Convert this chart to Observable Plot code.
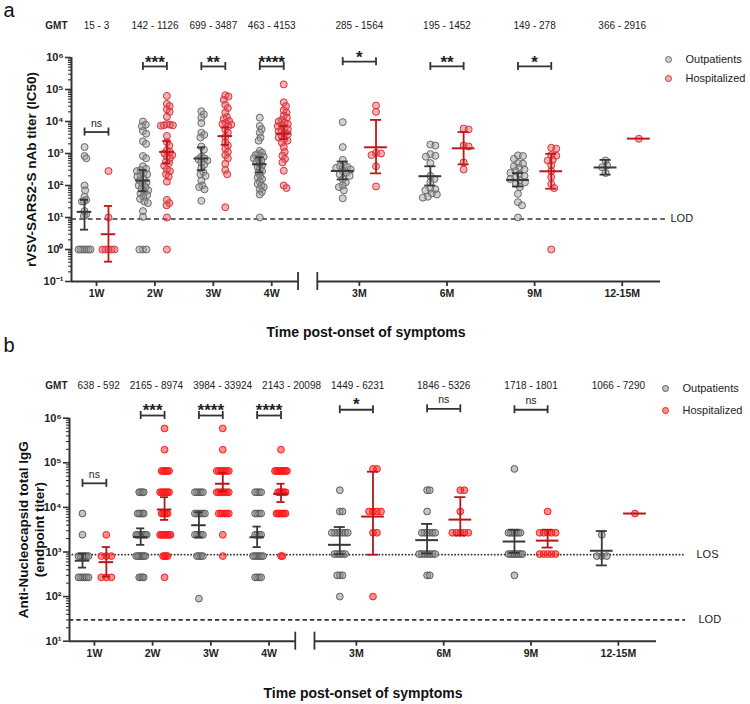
<!DOCTYPE html>
<html><head><meta charset="utf-8">
<script src="https://cdn.jsdelivr.net/npm/d3@7"></script>
<script src="https://cdn.jsdelivr.net/npm/@observablehq/plot@0.6"></script>
<style>
body{margin:0;background:#fff;font-family:"Liberation Sans",Arial,sans-serif;}
#chart svg{display:block;}
</style></head><body><div id="chart"></div>
<script>
// ---------------- DATA ----------------
const timepoints = ["1W","2W","3W","4W","3M","6M","9M","12-15M"];
const timeKinds  = ["W","W","W","W","M","M","M","M"];
const groupNames = ["Outpatients","Hospitalized"];

// Panel a: rVSV-SARS2-S nAb titer (IC50), values as log10 exponents
const nabOutLog = [
  [3.2,2.92,2.85,2.0,1.85,1.65,1.55,1.5,1.5,1.2,1.1,1.05,0,0,0,0,0,0,0],
  [4.0,3.9,3.85,3.7,3.62,3.38,3.3,2.92,2.85,2.6,2.52,2.48,2.45,2.4,2.35,2.3,2.28,2.2,2.15,2.1,2.05,2.0,1.95,1.9,1.85,1.8,1.75,1.7,1.65,1.58,1.5,1.45,1.2,1.02,0,0,0],
  [4.32,4.22,4.12,3.95,3.65,3.58,3.5,3.22,3.12,2.9,2.85,2.82,2.78,2.72,2.65,2.55,2.42,2.35,2.3,2.15,2.0,1.95,1.88,1.52],
  [4.12,3.86,3.76,3.65,3.5,3.4,3.08,3.02,2.98,2.95,2.92,2.9,2.85,2.82,2.78,2.72,2.68,2.62,2.58,2.52,2.45,2.4,2.3,2.25,2.2,2.12,2.05,2.0,1.95,1.88,1.8,1.72,1.0],
  [3.98,3.2,2.8,2.65,2.6,2.58,2.55,2.5,2.45,2.4,2.35,2.3,2.2,2.1,2.0,1.95,1.85,1.6],
  [3.28,3.25,2.98,2.93,2.9,2.7,2.3,2.2,2.1,1.9,1.88,1.85,1.75,1.72,1.65,1.62],
  [2.94,2.92,2.83,2.7,2.68,2.6,2.55,2.5,2.45,2.4,2.35,2.3,2.25,2.2,2.16,2.1,2.05,1.95,1.74,1.48,1.38,1.0],
  [2.78,2.63,2.57,2.39]
];
const nabHospLog = [
  [2.45,1.0,0,0,0,0,0],
  [4.8,4.55,4.48,4.38,4.3,4.15,3.92,3.9,3.88,3.88,3.87,3.55,3.35,3.25,3.1,3.05,3.0,2.95,2.9,2.85,2.75,2.7,2.62,2.5,2.45,2.35,2.28,2.12,1.55,1.45,1.38,1.0,0],
  [4.82,4.78,4.68,4.52,4.42,4.28,4.14,4.08,4.02,3.95,3.92,3.9,3.85,3.75,3.65,3.52,3.35,3.25,3.15,3.05,2.95,2.85,2.68,2.48,2.35,1.32],
  [5.16,4.6,4.48,4.35,4.28,4.18,4.12,4.05,4.0,3.96,3.92,3.88,3.85,3.8,3.76,3.72,3.68,3.64,3.6,3.55,3.5,3.45,3.4,3.34,3.2,3.05,2.93,2.83,2.72,2.46,2.0,1.92],
  [4.5,4.3,3.02,3.0,2.95,2.6,1.97],
  [3.78,3.75,3.25,3.22,2.72,2.5],
  [3.18,3.15,2.95,2.93,2.8,2.78,2.63,2.45,2.26,2.05,1.92,0],
  [3.46]
];
const nabGmtOut  = [15,142,699,463,285,195,149,366];
const nabGmtHosp = [3,1126,3487,4153,1564,1452,278,2916];
const nabCiOutLoLog  = [0.62,1.82,2.48,2.41,2.19,2.0,1.97,2.34];
const nabCiOutHiLog  = [1.55,2.48,3.19,2.88,2.75,2.6,2.39,2.8];
const nabCiHospLoLog = [-0.38,2.69,3.27,3.45,2.38,2.66,1.9,null];
const nabCiHospHiLog = [1.36,3.39,3.81,3.86,4.05,3.67,2.99,null];
const nabSig    = ["ns","***","**","****","*","**","*",null];
const nabSigLog = [3.67,5.72,5.72,5.72,5.87,5.72,5.72,null];
const nabLOD = 9;

// Panel b: Anti-Nucleocapsid total IgG (endpoint titer)
const npOut = [
  [7290,2430,810,810,810,810,810,810,270,270,270,270,270,270],
  [21870,21870,21870,21870,7290,7290,7290,7290,7290,2430,2430,2430,2430,2430,2430,2430,2430,810,810,810,810,810,810,810,270,270,270,270],
  [21870,21870,21870,21870,21870,7290,7290,7290,7290,7290,7290,2430,2430,2430,2430,2430,810,810,810,810,90],
  [21870,21870,21870,21870,7290,7290,7290,7290,2430,2430,2430,2430,810,810,810,810,810,810,270,270,270,270],
  [24300,8100,8100,2700,2700,2700,2700,2700,2700,2700,900,900,900,900,900,300,300,300,100],
  [24300,24300,8100,2700,2700,2700,2700,2700,2700,900,900,900,900,900,900,900,300,300],
  [72900,2700,2700,2700,2700,2700,2700,2700,900,900,900,900,900,900,900,900,300],
  [2430,810,810,810]
];
const npHosp = [
  [2430,810,810,810,270,270,270],
  [590490,196830,65610,65610,65610,65610,65610,65610,21870,21870,21870,21870,21870,21870,21870,7290,7290,7290,7290,7290,2430,2430,2430,2430,2430,2430,2430,2430,810,810,810,810,270],
  [590490,196830,65610,65610,65610,65610,65610,65610,65610,21870,21870,21870,21870,21870,21870,21870,7290,7290,7290,7290,7290,7290,2430,810],
  [196830,65610,65610,65610,65610,65610,65610,65610,65610,65610,21870,21870,21870,21870,21870,21870,7290,7290,7290,7290,7290,7290,7290,810,810],
  [72900,72900,8100,8100,8100,8100,2700,2700,100],
  [24300,24300,8100,2700,2700,2700,2700,2700],
  [8100,2700,2700,2700,2700,2700,900,900,900,900,900],
  [7290]
];
const npGmtOut  = [638,2165,3984,2143,1449,1846,1718,1066];
const npGmtHosp = [592,8974,33924,20098,6231,5326,1801,7290];
const npCiOutLoLog  = [2.65,3.16,3.33,3.11,2.95,2.97,2.98,2.70];
const npCiOutHiLog  = [2.96,3.53,3.89,3.57,3.56,3.63,3.5,3.47];
const npCiHospLoLog = [2.45,3.72,4.36,4.12,2.94,3.37,3.1,null];
const npCiHospHiLog = [3.11,4.23,4.77,4.53,4.8,4.23,3.5,null];
const npSig    = ["ns","***","****","****","*","ns","ns",null];
const npSigLog = [4.54,6.06,6.06,6.06,6.19,6.21,6.19,null];
const npLOS = 870;
const npLOD = 30;

// ---------------- LAYOUT ----------------
const W = 750;
const FONT = '"Liberation Sans", Arial, sans-serif';
const xDomain = [0.144, 20.31];
const slot = {W: 2, M: 3};
const pairOffset = {W: 0.41, M: 0.57};
const meanHalf = {W: 0.25, M: 0.39};
const capHalf = {W: 0.14, M: 0.19};
const spreadMax = {W: 6, M: 8};
const pos = [];
{
  let p = 0;
  timeKinds.forEach((k, i) => {
    if (i === 0) p = slot[k] / 2;
    else if (k !== timeKinds[i-1]) p += slot[timeKinds[i-1]] / 2 + slot[k] / 2 + 0.5;
    else p += slot[k];
    pos.push(p);
  });
}
const break1 = pos[3] + 0.45 * slot.W;
const break2 = pos[4] - 0.48 * slot.M;

const toTiter = e => (e == null ? null : Math.pow(10, e));
const sup = e => String(e).split("").map(c => ({"-":"⁻","0":"⁰","1":"¹","2":"²","3":"³","4":"⁴","5":"⁵","6":"⁶","7":"⁷","8":"⁸","9":"⁹"})[c]).join("");

function swarm(vals, pxPerDec, d, maxHalf) {
  const order = vals.map((_, i) => i).sort((a, b) => vals[b] - vals[a] || a - b);
  const placed = [];
  const off = new Array(vals.length).fill(0);
  for (const i of order) {
    const y = -Math.log10(vals[i]) * pxPerDec;
    for (let k = 0; k < 2000; k++) {
      const c = (k % 2 === 1 ? 1 : -1) * Math.ceil(k / 2) * 0.5;
      if (placed.every(p => (p.x - c) ** 2 + (p.y - y) ** 2 >= d * d - 1e-9)) {
        off[i] = c; placed.push({x: c, y}); break;
      }
    }
  }
  const m = Math.max(0, ...off.map(Math.abs));
  const s = m > maxHalf ? maxHalf / m : 1;
  return off.map(o => o * s);
}

const ctx = document.createElement("canvas").getContext("2d");
ctx.font = `10px ${FONT}`;

function buildPanel(cfg) {
  const L = cfg.layout;
  const [x0, x1] = xDomain;
  const pxPerUnit = (W - L.marginLeft - L.marginRight) / (x1 - x0);
  const [y0, y1] = cfg.yDomain;
  const pxPerDec = (L.height - L.marginTop - L.marginBottom) / (Math.log10(y1) - Math.log10(y0));
  const yShift = (v, px) => v * Math.pow(10, px / pxPerDec);

  const dots = [[], []];
  const stats = [[], []];
  cfg.series.forEach((s, gi) => {
    s.values.forEach((vals, ti) => {
      const kind = timeKinds[ti];
      const xc = pos[ti] + s.side * pairOffset[kind];
      const offs = swarm(vals, pxPerDec, 5, spreadMax[kind]);
      vals.forEach((v, j) => dots[gi].push({v, x: xc + offs[j] / pxPerUnit}));
      stats[gi].push({kind, xc, gmt: s.gmt[ti], lo: s.lo[ti], hi: s.hi[ti]});
    });
  });

  const errMarks = [];
  cfg.series.forEach((s, gi) => {
    const st = stats[gi];
    const withCi = st.filter(d => d.lo != null);
    const caps = withCi.flatMap(d => [{y: d.lo, xc: d.xc, kind: d.kind}, {y: d.hi, xc: d.xc, kind: d.kind}]);
    errMarks.push(
      Plot.ruleX(withCi, {x: "xc", y1: "lo", y2: "hi", stroke: s.bar, strokeWidth: 1.8}),
      Plot.ruleY(caps, {y: "y", x1: d => d.xc - capHalf[d.kind], x2: d => d.xc + capHalf[d.kind], stroke: s.bar, strokeWidth: 1.8}),
      Plot.ruleY(st, {y: "gmt", x1: d => d.xc - meanHalf[d.kind], x2: d => d.xc + meanHalf[d.kind], stroke: s.bar, strokeWidth: 2})
    );
  });

  const brackets = cfg.sig.map((lab, ti) => lab == null ? null : {
    label: lab, kind: timeKinds[ti], xc: pos[ti],
    x1: pos[ti] - pairOffset[timeKinds[ti]], x2: pos[ti] + pairOffset[timeKinds[ti]],
    y: toTiter(cfg.sigLog[ti])
  }).filter(d => d);
  const bracketEnds = brackets.flatMap(b => [{x: b.x1, y: b.y}, {x: b.x2, y: b.y}]);

  // GMT row positions
  const gmtLabels = cfg.series[0].gmt.map((g, i) => `${g} - ${cfg.series[1].gmt[i]}`);
  let prev = cfg.gmtStart;
  const gmtRows = gmtLabels.map((t, i) => {
    const w = ctx.measureText(t).width;
    const tick = L.marginLeft + (pos[i] - x0) * pxPerUnit;
    const c = Math.max(tick, prev + 10 + w / 2);
    prev = c + w / 2;
    return {t, x: x0 + (c - L.marginLeft) / pxPerUnit};
  });

  const e0 = Math.round(Math.log10(y0)), e1 = Math.round(Math.log10(y1));
  const major = d3.range(e0, e1 + 1).map(e => Math.pow(10, e));
  const minor = d3.range(e0, e1).flatMap(e => d3.range(2, 10).map(k => k * Math.pow(10, e)));

  const refMarks = cfg.refLines.flatMap(r => [
    Plot.ruleY([r.value], {x1: x0, x2: x1 + cfg.refExtend, stroke: "#333", strokeWidth: r.dotted ? 1.8 : 1.6,
      strokeDasharray: r.dotted ? "0.1,3.2" : r.dash, strokeLinecap: r.dotted ? "round" : "butt"}),
    Plot.text([r.text], {text: d => d, frameAnchor: "right", y: r.value, dx: r.dx, textAnchor: "start", lineAnchor: "middle", fontSize: 11, fill: "#222"})
  ]);

  const colorsDots = cfg.series.map((s, gi) => Plot.dot(dots[gi], {x: "x", y: "v", r: cfg.r, fill: s.fill, fillOpacity: s.fillOpacity, stroke: s.stroke, strokeWidth: 1}));

  const breakF = Math.pow(10, 9 / pxPerDec);

  return Plot.plot({
    width: W, height: L.height,
    marginTop: L.marginTop, marginBottom: L.marginBottom, marginLeft: L.marginLeft, marginRight: L.marginRight,
    x: {type: "linear", domain: xDomain, label: null},
    y: {type: "log", domain: cfg.yDomain, label: null},
    style: {fontFamily: FONT, fontSize: "10px", color: "#222", background: "white", overflow: "visible"},
    marks: [
      ...refMarks,
      // axes
      Plot.axisY({ticks: minor, tickSize: 3, tickFormat: () => "", stroke: "#333", strokeWidth: 1.1, label: null}),
      Plot.axisY({ticks: major, tickSize: 6, tickPadding: 2, tickFormat: v => "10" + sup(Math.round(Math.log10(v))),
        fontWeight: "bold", fontSize: 11, stroke: "#333", strokeWidth: 1.6, label: null}),
      Plot.ruleX([x0], {stroke: "#333", strokeWidth: 2}),
      Plot.ruleY([y0], {x1: x0, x2: break1, stroke: "#333", strokeWidth: 2}),
      Plot.ruleY([y0], {x1: break2, x2: x1, stroke: "#333", strokeWidth: 2}),
      Plot.ruleX([break1, break2], {y1: y0 / breakF, y2: y0 * breakF, stroke: "#333", strokeWidth: 1.8}),
      Plot.axisX({ticks: pos, tickSize: 5, tickPadding: 3, tickFormat: v => timepoints[pos.indexOf(v)],
        fontWeight: "bold", fontSize: 10.5, stroke: "#333", strokeWidth: 1.8, label: null}),
      // dots
      ...colorsDots,
      // error bars
      ...errMarks,
      // significance brackets
      Plot.ruleY(brackets, {y: "y", x1: "x1", x2: "x2", stroke: "#333", strokeWidth: 1.8}),
      Plot.ruleX(bracketEnds, {x: "x", y1: d => yShift(d.y, -4), y2: d => yShift(d.y, 4), stroke: "#333", strokeWidth: 1.8}),
      Plot.text(brackets.filter(b => b.label !== "ns"), {x: "xc", y: "y", text: "label", dy: cfg.starDy, lineAnchor: "middle", fontSize: 17, fontWeight: "bold", fill: "#222"}),
      Plot.text(brackets.filter(b => b.label === "ns"), {x: "xc", y: "y", text: "label", dy: cfg.nsDy, lineAnchor: "middle", fontSize: 10.5, fill: "#222"}),
      // GMT row
      Plot.text(["GMT"], {text: d => d, frameAnchor: "top-left", dx: cfg.gmtStart - L.marginLeft, dy: cfg.gmtDy, textAnchor: "end", lineAnchor: "middle", fontWeight: "bold", fontSize: 10, fill: "#222"}),
      Plot.text(gmtRows, {x: "x", text: "t", frameAnchor: "top", dy: cfg.gmtDy, textAnchor: "middle", lineAnchor: "middle", fontSize: 10, fill: "#222"}),
      // legend
      ...cfg.series.flatMap((s, gi) => [
        Plot.dot([0], {frameAnchor: "top-right", dx: cfg.legend.dx, dy: cfg.legend.dy[gi], r: 3, fill: s.fill, fillOpacity: s.fillOpacity, stroke: s.stroke, strokeWidth: 1}),
        Plot.text([s.name], {text: d => d, frameAnchor: "top-right", dx: cfg.legend.tdx, dy: cfg.legend.dy[gi], textAnchor: "start", lineAnchor: "middle", fontSize: 11, fill: "#222"})
      ]),
      // titles
      Plot.text([cfg.yTitle], {text: d => d, frameAnchor: "left", dx: cfg.yTitleDx, rotate: -90, textAnchor: "middle", lineAnchor: "middle", fontSize: 13.5, fontWeight: "bold", lineHeight: 1.2, fill: "#111"}),
      Plot.text(["Time post-onset of symptoms"], {text: d => d, frameAnchor: "bottom", dy: cfg.xTitleDy, textAnchor: "middle", lineAnchor: "middle", fontSize: 14, fontWeight: "bold", fill: "#111"}),
      Plot.text([cfg.letter], {text: d => d, frameAnchor: "top-left", dx: 3 - L.marginLeft, dy: cfg.letterY - L.marginTop, textAnchor: "start", lineAnchor: "middle", fontSize: 20, fill: "#111"})
    ]
  });
}

const panelA = buildPanel({
  layout: {height: 337, marginTop: 57, marginBottom: 56, marginLeft: 71, marginRight: 90},
  yDomain: [0.1, 1e6],
  r: 3.5,
  series: [
    {name: groupNames[0], side: -1, values: nabOutLog.map(a => a.map(toTiter)), gmt: nabGmtOut,
     lo: nabCiOutLoLog.map(toTiter), hi: nabCiOutHiLog.map(toTiter),
     fill: "#9a9a9a", fillOpacity: 0.45, stroke: "#6a6a6a", bar: "#383838"},
    {name: groupNames[1], side: 1, values: nabHospLog.map(a => a.map(toTiter)), gmt: nabGmtHosp,
     lo: nabCiHospLoLog.map(toTiter), hi: nabCiHospHiLog.map(toTiter),
     fill: "#ec4b52", fillOpacity: 0.45, stroke: "#d3363d", bar: "#c0161d"}
  ],
  sig: nabSig, sigLog: nabSigLog, starDy: -3.7, nsDy: -8.6,
  refLines: [{value: nabLOD, text: "LOD", dash: "5,3.3", dx: 10}],
  refExtend: 0.17,
  gmtStart: 67, gmtDy: -32,
  legend: {dx: 8, tdx: 25, dy: [2, 21]},
  yTitle: "rVSV-SARS2-S nAb titer (IC50)", yTitleDx: -41,
  xTitleDy: 51, letter: "a", letterY: 10
});

const panelB = buildPanel({
  layout: {height: 367, marginTop: 80.7, marginBottom: 63.3, marginLeft: 69, marginRight: 94},
  yDomain: [10, 1e6],
  r: 3.4,
  series: [
    {name: groupNames[0], side: -1, values: npOut, gmt: npGmtOut,
     lo: npCiOutLoLog.map(toTiter), hi: npCiOutHiLog.map(toTiter),
     fill: "#8a8a8a", fillOpacity: 0.5, stroke: "#5a5a5a", bar: "#383838"},
    {name: groupNames[1], side: 1, values: npHosp, gmt: npGmtHosp,
     lo: npCiHospLoLog.map(toTiter), hi: npCiHospHiLog.map(toTiter),
     fill: "#ff2020", fillOpacity: 0.5, stroke: "#ff1a1a", bar: "#b5161c"}
  ],
  sig: npSig, sigLog: npSigLog, starDy: -4.7, nsDy: -8.8,
  refLines: [{value: npLOS, text: "LOS", dotted: true, dx: 40}, {value: npLOD, text: "LOD", dash: "4.3,3", dx: 42}],
  refExtend: 1.0,
  gmtStart: 67, gmtDy: -32.7,
  legend: {dx: 9, tdx: 26, dy: [-29.7, -7.7]},
  yTitle: "Anti-Nucleocapsid total IgG\n(endpoint titer)", yTitleDx: -39,
  xTitleDy: 52.3, letter: "b", letterY: 8.3
});

document.getElementById("chart").append(panelA, panelB);
</script></body></html>
